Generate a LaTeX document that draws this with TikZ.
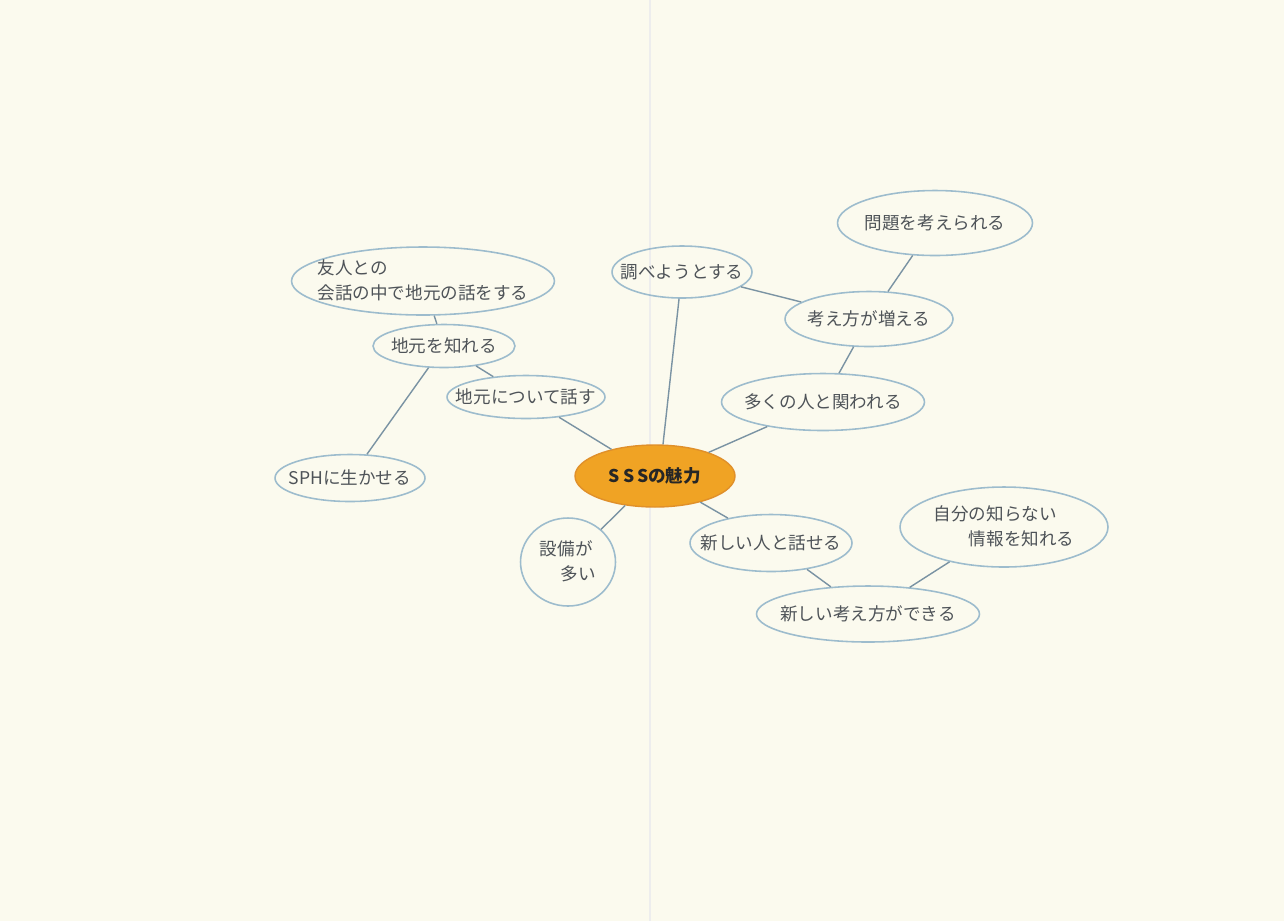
\documentclass[tikz,border=0pt]{standalone}
\usepackage{fontspec}
\newfontfamily\jp{Noto Sans CJK JP}
\usetikzlibrary{shapes.geometric}
\definecolor{paper}{HTML}{FBFAEE}
\definecolor{bub}{HTML}{9DBCCD}
\definecolor{con}{HTML}{7A93A3}
\definecolor{ink}{HTML}{4E5358}
\definecolor{core}{HTML}{F0A324}
\definecolor{coreline}{HTML}{E0902A}
\newcommand\zt[1]{\raisebox{-0.38em}[0pt][0pt]{\makebox[0pt]{#1}}}
\newcommand\zm[1]{\raisebox{-0.3em}[0pt][0pt]{\makebox[0pt]{\begin{tabular}[c]{@{}l@{}}#1\end{tabular}}}}
\tikzset{
  bubble/.style={ellipse,draw=bub,line width=0.9pt,inner sep=0pt,text=ink,
    font=\jp\fontsize{10}{14}\selectfont},
  link/.style={draw=con,line width=0.8pt}
}
\begin{document}
\begin{tikzpicture}[x=0.02cm,y=-0.02cm]
\fill[paper] (0,0) rectangle (1284,921);
\useasboundingbox (0,0) rectangle (1284,921);
\draw[black!7,line width=1pt] (650,0) -- (650,921);
% centre
\node[ellipse,fill=core,draw=coreline,line width=0.8pt,inner sep=0pt,minimum width=3.2cm,minimum height=1.24cm,
  font=\jp\bfseries\fontsize{10}{12}\selectfont,text=black!85] (c) at (655,476) {\zt{S\,S\,Sの魅力}};
% left
\node[bubble,minimum width=5.26cm,minimum height=1.36cm] (yu) at (423,281) {\zm{友人との\\会話の中で地元の話をする}};
\node[bubble,minimum width=2.84cm,minimum height=0.86cm] (shi) at (444,346) {\zt{地元を知れる}};
\node[bubble,minimum width=3.16cm,minimum height=0.86cm] (ha) at (526,397) {\zt{地元について話す}};
\node[bubble,minimum width=3.0cm,minimum height=0.94cm] (sph) at (350,478) {\zt{SPHに生かせる}};
% top right
\node[bubble,minimum width=2.8cm,minimum height=1.04cm] (shira) at (682,272) {\zt{調べようとする}};
\node[bubble,minimum width=3.9cm,minimum height=1.3cm] (mon) at (935,223) {\zt{問題を考えられる}};
\node[bubble,minimum width=3.36cm,minimum height=1.1cm] (kan) at (869,319) {\zt{考え方が増える}};
\node[bubble,minimum width=4.06cm,minimum height=1.14cm] (oo) at (823,402) {\zt{多くの人と関われる}};
% bottom
\node[bubble,minimum width=1.9cm,minimum height=1.76cm] (se) at (568,562) {\zm{設備が\\\hspace{1.2em}多い}};
\node[bubble,minimum width=3.24cm,minimum height=1.14cm] (ara) at (771,543) {\zt{新しい人と話せる}};
\node[bubble,minimum width=4.16cm,minimum height=1.6cm] (ji) at (1004,527) {\zm{自分の知らない\\\hspace{2em}情報を知れる}};
\node[bubble,minimum width=4.46cm,minimum height=1.12cm] (atk) at (868,614) {\zt{新しい考え方ができる}};
% links
\draw[link] (c) -- (ha);
\draw[link] (c.north) ++(8,0) -- (shira);
\draw[link] (c) -- (oo);
\draw[link] (c) -- (se);
\draw[link] (c) -- (ara);
\draw[link] (ha) -- (shi);
\draw[link] (shi) -- (yu);
\draw[link] (shi) -- (sph);
\draw[link] (shira) -- (kan);
\draw[link] (kan) -- (mon);
\draw[link] (kan) -- (oo);
\draw[link] (ara) -- (atk);
\draw[link] (atk) -- (ji);
\end{tikzpicture}
\end{document}
